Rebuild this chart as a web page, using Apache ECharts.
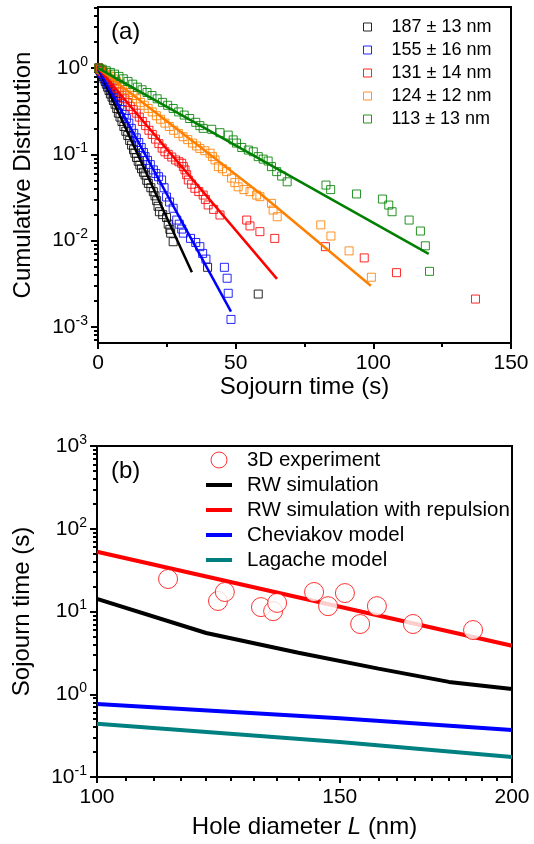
<!DOCTYPE html>
<html><head><meta charset="utf-8">
<script src="https://cdn.jsdelivr.net/npm/echarts@6/dist/echarts.min.js"></script>
<style>html,body{margin:0;padding:0;background:#fff}#c{width:534px;height:844px}</style>
</head><body><div id="c"></div>
<script>
// ---------- Panel (a): cumulative distributions of sojourn time ----------
const namesA = ['187 ± 13 nm', '155 ± 16 nm', '131 ± 14 nm', '124 ± 12 nm', '113 ± 13 nm'];
const colorsA = ['#000000', '#0000ff', '#ff0000', '#ff8000', '#008000'];
// [sojourn time (s), cumulative distribution]
const pts187 = [[0.2,1.0],[0.5,0.97],[0.8,0.93],[1.1,0.89],[1.4,0.85],[1.8,0.8],[2.2,0.75],[2.6,0.7],[3.0,0.65],[3.5,0.6],[4.0,0.55],[4.5,0.5],[5.1,0.46],[5.6,0.42],[6.2,0.38],[6.8,0.34],[7.4,0.3],[8.0,0.27],[8.7,0.24],[9.4,0.21],[10.1,0.185],[10.8,0.165],[11.5,0.145],[12.2,0.128],[12.9,0.113],[13.4,0.103],[14.0,0.092],[14.6,0.083],[15.2,0.075],[15.8,0.068],[16.5,0.062],[17.1,0.0575],[17.7,0.05],[18.3,0.046],[19.2,0.041],[20.1,0.0369],[20.7,0.033],[21.3,0.029],[21.8,0.025],[22.3,0.0216],[23.5,0.02],[24.9,0.0185],[25.5,0.0155],[26.1,0.0135],[26.4,0.0122],[27.3,0.0097],[39.8,0.0049],[58.2,0.0024]];
const pts155 = [[0.2,1.0],[0.5,0.97],[0.9,0.93],[1.3,0.89],[1.7,0.85],[2.2,0.8],[2.7,0.75],[3.2,0.7],[3.8,0.65],[4.4,0.6],[5.0,0.55],[5.7,0.5],[6.4,0.45],[7.1,0.41],[7.9,0.37],[8.7,0.33],[9.5,0.29],[10.3,0.26],[11.2,0.23],[12.1,0.2],[13.0,0.175],[13.9,0.155],[14.8,0.137],[15.7,0.12],[16.5,0.105],[17.1,0.094],[18.0,0.085],[19.0,0.076],[20.1,0.066],[21.0,0.06],[22.0,0.055],[23.1,0.0504],[24.0,0.041],[24.9,0.032],[26.0,0.028],[27.3,0.0237],[28.6,0.0173],[29.5,0.0155],[30.4,0.0136],[31.0,0.0122],[33.6,0.0106],[35.5,0.0095],[37.0,0.0085],[38.0,0.0071],[39.2,0.0061],[45.9,0.0049],[46.9,0.00366],[47.3,0.00245],[48.3,0.00122]];
const pts131 = [[0.3,1.0],[0.8,0.96],[1.4,0.92],[2.0,0.88],[2.7,0.83],[3.4,0.78],[4.2,0.73],[5.0,0.68],[5.9,0.63],[6.8,0.58],[7.7,0.53],[8.7,0.48],[9.7,0.44],[10.7,0.4],[11.7,0.36],[12.8,0.33],[13.9,0.3],[15.0,0.27],[16.1,0.24],[17.3,0.215],[18.5,0.19],[19.7,0.17],[20.9,0.15],[22.1,0.133],[23.3,0.118],[24.3,0.107],[25.5,0.1],[26.8,0.093],[28.2,0.086],[29.4,0.082],[30.4,0.0787],[31.0,0.072],[31.6,0.066],[32.2,0.058],[32.8,0.0504],[34.0,0.045],[35.2,0.0404],[36.6,0.037],[38.2,0.0337],[39.0,0.03],[40.0,0.0259],[42.0,0.023],[44.3,0.0198],[54.0,0.0173],[55.2,0.0148],[58.8,0.0127],[64.2,0.0106],[82.6,0.0085],[96.7,0.0063],[108.4,0.00425],[137.1,0.0021]];
const pts124 = [[0.3,1.0],[1.0,0.96],[1.8,0.92],[2.7,0.88],[3.6,0.84],[4.6,0.8],[5.6,0.75],[6.7,0.7],[7.8,0.65],[9.0,0.6],[10.2,0.56],[11.4,0.52],[12.7,0.48],[14.0,0.44],[15.4,0.4],[16.8,0.37],[18.2,0.34],[19.7,0.31],[21.2,0.28],[22.7,0.255],[24.3,0.23],[25.9,0.21],[27.5,0.19],[29.2,0.175],[30.9,0.16],[32.6,0.148],[34.3,0.135],[35.8,0.125],[37.0,0.117],[38.8,0.11],[40.7,0.103],[41.6,0.094],[42.5,0.086],[43.7,0.072],[45.2,0.068],[46.7,0.063],[48.5,0.053],[49.7,0.047],[50.9,0.042],[53.0,0.039],[55.2,0.0369],[57.6,0.0337],[58.8,0.0323],[63.0,0.027],[63.6,0.0226],[65.1,0.0189],[80.9,0.0152],[84.6,0.0113],[91.2,0.0076],[99.3,0.00376]];
const pts113 = [[0.3,1.0],[1.5,0.97],[3.0,0.93],[4.5,0.89],[6.0,0.85],[7.6,0.8],[9.2,0.75],[10.9,0.7],[12.6,0.65],[14.3,0.6],[16.0,0.56],[17.8,0.52],[19.6,0.48],[21.5,0.44],[23.4,0.4],[25.3,0.37],[27.3,0.34],[29.3,0.31],[31.3,0.285],[33.3,0.26],[35.5,0.235],[37.0,0.215],[38.2,0.2],[41.3,0.195],[44.3,0.178],[47.3,0.167],[49.1,0.147],[50.3,0.135],[52.2,0.12],[54.6,0.112],[56.4,0.107],[58.2,0.094],[60.0,0.088],[61.8,0.0836],[63.0,0.072],[64.9,0.063],[66.7,0.056],[68.7,0.048],[82.8,0.044],[84.5,0.039],[93.9,0.0347],[103.3,0.0303],[105.6,0.0258],[106.8,0.0216],[113.0,0.0173],[117.1,0.0129],[118.9,0.0087],[120.4,0.0044]];
// fitted curves
const fit187 = [[0,1.0],[34.1,0.0043]];
const fit155 = [[0,1.0],[48.3,0.0015]];
const fit131 = [[0,1.0],[65.0,0.0036]];
const fit124 = [[0,1.0],[37.0,0.1225],[58.8,0.0353],[99.1,0.0030]];
const fit113 = [[0,1.0],[120.1,0.0070]];
const xTicksA = [0, 50, 100, 150];
const yTicksA = [0.001, 0.01, 0.1, 1];

// ---------- Panel (b): sojourn time vs hole diameter ----------
const expDiam = [112.6, 122.4, 123.8, 131.5, 134.2, 135.1, 143.7, 147.1, 151.3, 155.2, 159.6, 169.5, 187.4];
const expTime = [24.7, 13.4, 17.2, 11.3, 10.1, 12.7, 17.2, 11.6, 16.7, 7.06, 11.6, 7.06, 5.97];
const simDiam = [100, 120, 140, 160, 180, 200];
const rwSim = [14.2, 5.5, 3.18, 2.04, 1.41, 1.16];
const modelDiam = [100, 150, 200];
const rwRepulsion = [52.8, 11.4, 3.86];
const cheviakov = [0.762, 0.513, 0.37];
const lagache = [0.44, 0.265, 0.175];
const xTicksB = [100, 150, 200];
const xMinorB = [105,110,115,120,125,130,135,140,145,155,160,165,170,175,180,185,190,195];
const yTicksB = [0.1, 1, 10, 100, 1000];
const namesB = ['3D experiment', 'RW simulation', 'RW simulation with repulsion', 'Cheviakov model', 'Lagache model'];
const colorsB = ['#ff0000', '#000000', '#ff0000', '#0000ff', '#008080'];

// ---------- helpers ----------
const FONT = '"Liberation Sans", Arial, Helvetica, sans-serif';
const lg = v => Math.log10(v);
const toLogY = arr => arr.map(p => [p[0], lg(p[1])]);
const toLogXY = (xs, ys) => xs.map((x, i) => [lg(x), lg(ys[i])]);
const minorLog = (lo, hi) => {
  const out = [];
  for (let d = -5; d <= 4; d++) for (let k = 2; k <= 9; k++) {
    const v = lg(k) + d;
    if (v >= lo && v <= hi) out.push(v);
  }
  return out;
};
const black = '#000';
const axisLineStyle = {color: black, width: 2};
const tickStyle = {color: black, width: 2};
const supRich = {
  b: {fontSize: 21, lineHeight: 26, fontFamily: FONT, color: black},
  s: {fontSize: 14, lineHeight: 14, verticalAlign: 'top', fontFamily: FONT, color: black}
};
const supFmt = v => '{b|10}{s|' + Math.round(v) + '}';

const yMinA = lg(0.00065), yMaxA = lg(5.1);
const yMinB = lg(0.1), yMaxB = lg(1000);
const xMinB = lg(100), xMaxB = lg(200);

const ptsA = [pts187, pts155, pts131, pts124, pts113];
const fitsA = [fit187, fit155, fit131, fit124, fit113];

const series = [];
ptsA.forEach((p, i) => {
  series.push({
    type: 'scatter', name: namesA[i], xAxisIndex: 0, yAxisIndex: 0,
    data: toLogY(p), symbol: 'rect', symbolSize: 8, z: 2, silent: true,
    itemStyle: {color: 'rgba(255,255,255,0)', borderColor: colorsA[i], borderWidth: 1, opacity: 0.85}
  });
});
fitsA.forEach((f, i) => {
  series.push({
    type: 'line', name: 'fit ' + namesA[i], xAxisIndex: 0, yAxisIndex: 0,
    data: toLogY(f), symbol: 'none', showSymbol: false, z: 3, silent: true,
    itemStyle: {color: colorsA[i]}, lineStyle: {color: colorsA[i], width: 2.5}
  });
});
const linesB = [[simDiam, rwSim], [modelDiam, rwRepulsion], [modelDiam, cheviakov], [modelDiam, lagache]];
linesB.forEach((l, i) => {
  series.push({
    type: 'line', name: namesB[i + 1], xAxisIndex: 1, yAxisIndex: 2,
    data: toLogXY(l[0], l[1]), symbol: 'none', showSymbol: false, z: 3, silent: true,
    itemStyle: {color: colorsB[i + 1]}, lineStyle: {color: colorsB[i + 1], width: 4}
  });
});
series.push({
  type: 'scatter', name: namesB[0], xAxisIndex: 1, yAxisIndex: 2,
  data: toLogXY(expDiam, expTime), symbol: 'circle', symbolSize: 19, z: 5, silent: true,
  itemStyle: {color: '#ffffff', borderColor: colorsB[0], borderWidth: 1}
});

const linePath = 'path://M0,0L26,0L26,4L0,4Z';

const option = {
  backgroundColor: '#ffffff',
  animation: false,
  textStyle: {fontFamily: FONT, color: black},
  grid: [
    {left: 98, right: 23, top: 7, bottom: 501, show: true, borderColor: black, borderWidth: 2, backgroundColor: 'rgba(0,0,0,0)', containLabel: false, outerBoundsMode: 'none'},
    {left: 97, right: 22, top: 446, bottom: 67, show: true, borderColor: black, borderWidth: 2, backgroundColor: 'rgba(0,0,0,0)', containLabel: false, outerBoundsMode: 'none'}
  ],
  xAxis: [
    {type: 'value', gridIndex: 0, min: 0, max: 150, interval: 50, position: 'bottom',
     axisLine: {show: true, onZero: false, lineStyle: axisLineStyle},
     axisTick: {show: true, inside: false, length: 6, lineStyle: tickStyle, customValues: xTicksA},
     minorTick: {show: true, splitNumber: 2, length: 4, lineStyle: tickStyle},
     axisLabel: {fontSize: 21, color: black, margin: 10, fontFamily: FONT, customValues: xTicksA},
     splitLine: {show: false}, minorSplitLine: {show: false},
     name: 'Sojourn time (s)', nameLocation: 'middle', nameGap: 30,
     nameTextStyle: {fontSize: 24, fontFamily: FONT, color: black}},
    {type: 'value', gridIndex: 1, min: xMinB, max: xMaxB, position: 'bottom',
     axisLine: {show: true, onZero: false, lineStyle: axisLineStyle},
     axisTick: {show: true, inside: false, length: 6, lineStyle: tickStyle, customValues: xTicksB.map(lg)},
     axisLabel: {fontSize: 21, color: black, margin: 10, fontFamily: FONT, customValues: xTicksB.map(lg),
       formatter: v => String(Math.round(Math.pow(10, v)))},
     splitLine: {show: false},
     name: 'Hole diameter {i|L} (nm)', nameLocation: 'middle', nameGap: 38,
     nameTextStyle: {fontSize: 24, fontFamily: FONT, color: black,
       rich: {i: {fontSize: 24, fontStyle: 'italic', fontFamily: FONT, color: black}}}},
    {type: 'value', gridIndex: 1, min: xMinB, max: xMaxB, position: 'bottom',
     axisLine: {show: false, onZero: false}, axisLabel: {show: false}, splitLine: {show: false},
     axisTick: {show: true, inside: false, length: 4, lineStyle: tickStyle, customValues: xMinorB.map(lg)}}
  ],
  yAxis: [
    {type: 'value', gridIndex: 0, min: yMinA, max: yMaxA, position: 'left',
     axisLine: {show: true, onZero: false, lineStyle: axisLineStyle},
     axisTick: {show: true, inside: false, length: 7, lineStyle: tickStyle, customValues: yTicksA.map(lg)},
     axisLabel: {margin: 10, customValues: yTicksA.map(lg), formatter: supFmt, rich: supRich},
     splitLine: {show: false},
     name: 'Cumulative Distribution', nameLocation: 'middle', nameGap: 63, nameRotate: 90,
     nameTextStyle: {fontSize: 24, fontFamily: FONT, color: black}},
    {type: 'value', gridIndex: 0, min: yMinA, max: yMaxA, position: 'left',
     axisLine: {show: false, onZero: false}, axisLabel: {show: false}, splitLine: {show: false},
     axisTick: {show: true, inside: false, length: 4, lineStyle: tickStyle, customValues: minorLog(yMinA, yMaxA)}},
    {type: 'value', gridIndex: 1, min: yMinB, max: yMaxB, position: 'left',
     axisLine: {show: true, onZero: false, lineStyle: axisLineStyle},
     axisTick: {show: true, inside: false, length: 7, lineStyle: tickStyle, customValues: yTicksB.map(lg)},
     axisLabel: {margin: 10, customValues: yTicksB.map(lg), formatter: supFmt, rich: supRich},
     splitLine: {show: false},
     name: 'Sojourn time (s)', nameLocation: 'middle', nameGap: 63, nameRotate: 90,
     nameTextStyle: {fontSize: 24, fontFamily: FONT, color: black}},
    {type: 'value', gridIndex: 1, min: yMinB, max: yMaxB, position: 'left',
     axisLine: {show: false, onZero: false}, axisLabel: {show: false}, splitLine: {show: false},
     axisTick: {show: true, inside: false, length: 4, lineStyle: tickStyle, customValues: minorLog(yMinB, yMaxB)}}
  ],
  legend: [
    {orient: 'vertical', left: 363, top: 15.5, padding: 0, itemGap: 0, itemWidth: 8, itemHeight: 8,
     selectedMode: false,
     textStyle: {fontSize: 18, lineHeight: 23, fontFamily: FONT, color: black, padding: [0, 0, 0, 15]},
     data: namesA.map((n, i) => ({name: n, icon: 'rect',
       itemStyle: {color: 'rgba(255,255,255,0)', borderColor: colorsA[i], borderWidth: 1}}))},
    {orient: 'vertical', left: 206, top: 447.5, padding: 0, itemGap: 0, itemWidth: 26, itemHeight: 16,
     selectedMode: false,
     textStyle: {fontSize: 20.5, lineHeight: 25, fontFamily: FONT, color: black, padding: [0, 0, 0, 10]},
     data: namesB.map((n, i) => i === 0
       ? {name: n, icon: 'circle', itemStyle: {color: '#ffffff', borderColor: colorsB[0], borderWidth: 1}}
       : {name: n, icon: linePath, itemStyle: {color: colorsB[i], borderWidth: 0}})}
  ],
  graphic: [
    {type: 'text', left: 111, top: 20, style: {text: '(a)', font: '24px ' + FONT, fill: black}},
    {type: 'text', left: 111, top: 459, style: {text: '(b)', font: '24px ' + FONT, fill: black}}
  ],
  series: series
};

const chart = echarts.init(document.getElementById('c'), null, {renderer: 'canvas', width: 534, height: 844});
chart.setOption(option);
</script>
</body></html>
